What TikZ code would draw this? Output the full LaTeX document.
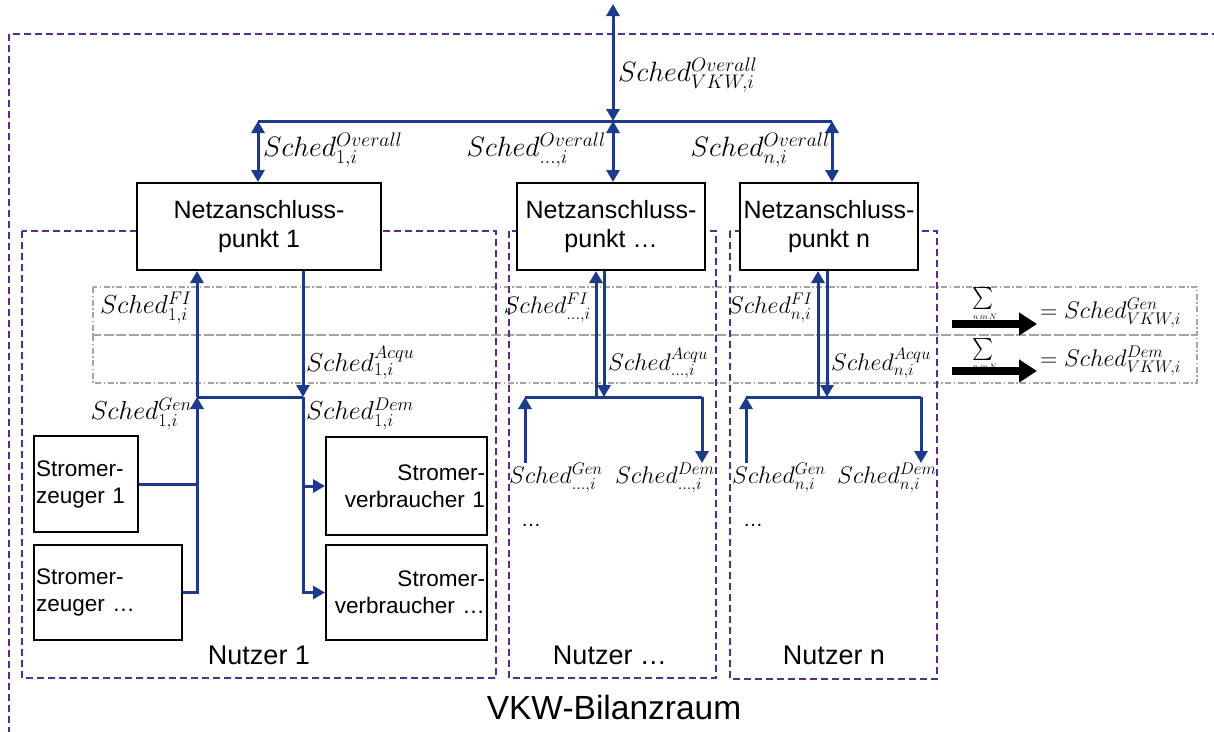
\RequirePackage{fix-cm}
\documentclass[tikz,border=0pt]{standalone}
\usepackage[no-math]{fontspec}
\setmainfont{Liberation Sans}
\usetikzlibrary{arrows.meta}

\definecolor{flowblue}{RGB}{30,58,138}
\definecolor{zonepurple}{RGB}{88,45,135}
\definecolor{bandgray}{RGB}{165,165,165}

\tikzset{
  flow/.style={draw=flowblue, line width=3pt},
  tipped/.style={flow, -{Triangle[length=12pt,width=13pt]}},
  twoway/.style={flow, {Triangle[length=12pt,width=13pt]}-{Triangle[length=12pt,width=13pt]}},
  bigarrow/.style={draw=black, line width=8pt, -{Triangle[length=18pt,width=22pt]}},
  box/.style={draw=black, line width=2pt, fill=white, inner sep=0pt},
  npbox/.style={box, minimum height=87pt, align=center, font=\fontsize{25}{29}\selectfont},
  unitbox/.style={box, inner xsep=2pt, font=\fontsize{22.5}{27}\selectfont},
  zone/.style={draw=zonepurple, line width=1.3pt, dash pattern=on 7pt off 4pt},
  band/.style={draw=bandgray, line width=1.3pt, dash pattern=on 6pt off 2.5pt on 1.5pt off 2.5pt},
  biglbl/.style={inner sep=0pt, font=\fontsize{28}{32}\selectfont},
  lbl/.style={inner sep=0pt, font=\fontsize{26}{30}\selectfont},
  smalllbl/.style={inner sep=0pt, font=\fontsize{24}{28}\selectfont},
  eqlbl/.style={inner sep=0pt, font=\fontsize{24}{28}\selectfont},
  sumsign/.style={inner sep=0pt, font=\fontsize{10}{10}\selectfont},
  sumindex/.style={inner sep=0pt, font=\fontsize{8}{8}\selectfont},
  zonetitle/.style={inner sep=0pt, font=\fontsize{27}{30}\selectfont},
}

\begin{document}
\begin{tikzpicture}[x=1pt, y=-1pt]
\useasboundingbox (0,0) rectangle (1214,731);

% balance area frame (open to the right and bottom)
\draw[zone] (9,745) -- (9,34) -- (1225,34);

% dash-dotted bands for the summed schedules
\draw[band] (93,287) rectangle (1197,335);
\draw[band] (93,335) rectangle (1197,383);

% user zones
\draw[zone] (22,231) rectangle (496,678);
\draw[zone] (509,231) rectangle (716,678);
\draw[zone] (730,231) rectangle (937,679);

% grid connection points
\node[npbox, minimum width=244pt] (N1) at (259,226.5) {Netzanschluss-\\punkt 1};
\node[npbox, minimum width=188pt] (N2) at (611,226.5) {Netzanschluss-\\punkt \dots};
\node[npbox, minimum width=178pt] (N3) at (829,226.5) {Netzanschluss-\\punkt n};

% overall schedule distribution
\coordinate (top) at (613,4);
\coordinate (busL) at (258,121);
\coordinate (busM) at (613,121);
\coordinate (busR) at (832,121);
\draw[twoway] (top) -- (busM);
\draw[flow] (busL) -- (busR);
\draw[twoway] (busL) -- (busL |- N1.north);
\draw[twoway] (busM) -- (busM |- N2.north);
\draw[twoway] (busR) -- (busR |- N3.north);

\node[biglbl, anchor=west] (lVKW) at (618,75) {$Sched^{Overall}_{VKW,i}$};
\node[biglbl, anchor=west] (lO1) at (263,150) {$Sched^{Overall}_{1,i}$};
\node[biglbl, anchor=east] (lO2) at (606,150) {$Sched^{Overall}_{\ldots,i}$};
\node[biglbl, anchor=east] (lO3) at (830,150) {$Sched^{Overall}_{n,i}$};

% ---- user 1: generators and consumers
\node[unitbox, text width=100pt, minimum height=96pt, align=left] (G1) at (86,484) {Stromer-\\zeuger 1};
\node[unitbox, text width=144pt, minimum height=95pt, align=left] (G2) at (108,592.5) {Stromer-\\zeuger \dots};
\node[unitbox, text width=157pt, minimum height=98pt, align=right] (V1) at (406.5,486) {Stromer-\\verbraucher 1};
\node[unitbox, text width=157pt, minimum height=95pt, align=right] (V2) at (406.5,592.5) {Stromer-\\verbraucher \dots};

\coordinate (j1a) at (197,397);
\coordinate (j1b) at (303,397);
\draw[tipped] (j1a) -- (j1a |- N1.south);
\draw[tipped] (j1b |- N1.south) -- (j1b);
\draw[flow] (j1a) -- (j1b);
\draw[tipped] (G2.east) -| (j1a);
\draw[flow] (G1.east) -- (G1.east -| j1a);
\draw[tipped] (j1b) |- (V2.west);
\draw[tipped] (j1b |- V1.west) -- (V1.west);

\node[lbl, anchor=east] (lFI1) at (192,308) {$Sched^{FI}_{1,i}$};
\node[lbl, anchor=west] (lAc1) at (306,363) {$Sched^{Acqu}_{1,i}$};
\node[lbl, anchor=east] (lGe1) at (192,414) {$Sched^{Gen}_{1,i}$};
\node[lbl, anchor=west] (lDe1) at (306,414) {$Sched^{Dem}_{1,i}$};
\node[zonetitle] (Z1) at (259,655) {Nutzer 1};

% ---- user ...
\coordinate (j2a) at (596,397);
\coordinate (j2b) at (604,397);
\coordinate (b2L) at (525,397);
\coordinate (b2R) at (702,397);
\coordinate (g2) at (525,463);
\coordinate (d2) at (702,463);
\draw[tipped] (j2a) -- (j2a |- N2.south);
\draw[tipped] (j2b |- N2.south) -- (j2b);
\draw[flow] (b2L) -- (b2R);
\draw[tipped] (g2) -- (b2L);
\draw[tipped] (b2R) -- (d2);

\node[smalllbl, anchor=east] (lFI2) at (591,308) {$Sched^{FI}_{\ldots,i}$};
\node[smalllbl, anchor=west] (lAc2) at (608,363) {$Sched^{Acqu}_{\ldots,i}$};
\node[smalllbl, anchor=west] (lGe2) at (509,478) {$Sched^{Gen}_{\ldots,i}$};
\node[smalllbl, anchor=west] (lDe2) at (615,478) {$Sched^{Dem}_{\ldots,i}$};
\node[font=\fontsize{20}{24}\selectfont, inner sep=0pt] (dots2) at (531,525) {\dots};
\node[zonetitle] (Z2) at (610,655) {Nutzer \dots};

% ---- user n
\coordinate (j3a) at (818,397);
\coordinate (j3b) at (827,397);
\coordinate (b3L) at (746,397);
\coordinate (b3R) at (921,397);
\coordinate (g3) at (746,463);
\coordinate (d3) at (921,463);
\draw[tipped] (j3a) -- (j3a |- N3.south);
\draw[tipped] (j3b |- N3.south) -- (j3b);
\draw[flow] (b3L) -- (b3R);
\draw[tipped] (g3) -- (b3L);
\draw[tipped] (b3R) -- (d3);

\node[smalllbl, anchor=east] (lFI3) at (813,308) {$Sched^{FI}_{n,i}$};
\node[smalllbl, anchor=west] (lAc3) at (831,363) {$Sched^{Acqu}_{n,i}$};
\node[smalllbl, anchor=west] (lGe3) at (732,478) {$Sched^{Gen}_{n,i}$};
\node[smalllbl, anchor=west] (lDe3) at (837,478) {$Sched^{Dem}_{n,i}$};
\node[font=\fontsize{20}{24}\selectfont, inner sep=0pt] (dots3) at (753,525) {\dots};
\node[zonetitle] (Z3) at (834,655) {Nutzer n};

% ---- aggregation over all users
\coordinate (sGa) at (952,324);
\coordinate (sGb) at (1037,324);
\coordinate (sDa) at (952,371);
\coordinate (sDb) at (1037,371);
\draw[bigarrow] (sGa) -- (sGb);
\draw[bigarrow] (sDa) -- (sDb);

\node[sumsign] (sumG) at (983.5,298) {\scalebox{2.0}[2.2]{$\textstyle\sum$}};
\node[sumindex] (sumGn) at (985,316.5) {$n\,in\,N$};
\node[sumsign] (sumD) at (983.5,349.5) {\scalebox{2.0}[2.2]{$\textstyle\sum$}};
\node[sumindex] (sumDn) at (985,366.5) {$n\,in\,N$};
\node[eqlbl, anchor=west] (eqG) at (1040,313) {$= Sched^{Gen}_{VKW,i}$};
\node[eqlbl, anchor=west] (eqD) at (1040,361) {$= Sched^{Dem}_{VKW,i}$};

% balance area title
\node[inner sep=0pt, font=\fontsize{33.5}{36}\selectfont] (title) at (614,708) {VKW-Bilanzraum};
\end{tikzpicture}
\end{document}
